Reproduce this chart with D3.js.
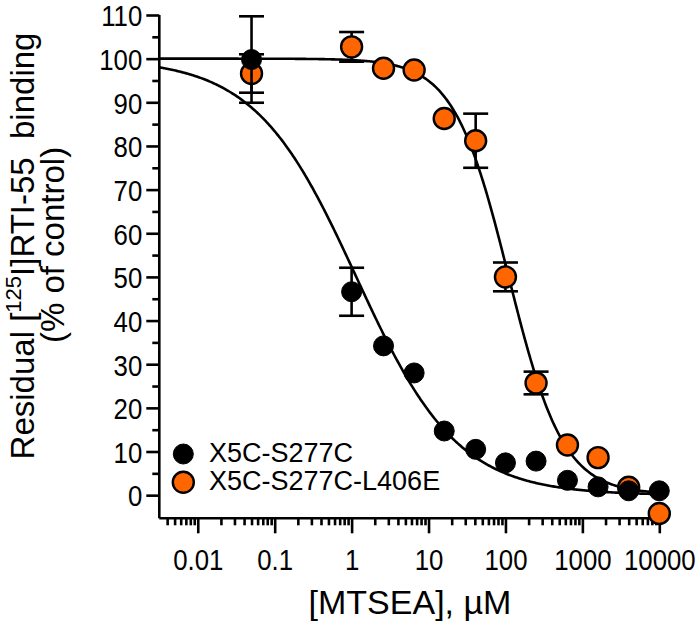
<!DOCTYPE html>
<html>
<head>
<meta charset="utf-8">
<script src="https://cdn.jsdelivr.net/npm/d3@7"></script>
<style>
  html, body { margin: 0; padding: 0; background: #fff; }
  svg { display: block; font-family: "Liberation Sans", Arial, sans-serif; }
</style>
</head>
<body>
<svg id="chart" width="700" height="631"></svg>
<script>
// ---- data ----
const seriesNames = ["X5C-S277C", "X5C-S277C-L406E"];
const seriesColors = ["#000000", "#FF6600"];

const blackX   = [0.05, 1, 2.6, 6.5, 16, 41, 100, 250, 640, 1600, 4000, 10000];
const blackY   = [99.8, 46.6, 34.2, 28.0, 14.7, 10.5, 7.4, 7.8, 3.4, 1.9, 1.0, 1.0];
const blackErr = [9.9, 5.5, 0, 0, 0, 0, 0, 0, 0, 0, 0, 0];

const orangeX   = [0.05, 1, 2.6, 6.5, 16, 41, 100, 250, 640, 1600, 4000, 10000];
const orangeY   = [96.6, 102.7, 97.8, 97.4, 86.3, 81.2, 50.0, 25.7, 11.5, 8.6, 1.8, -4.2];
const orangeErr = [4.4, 3.4, 0, 0, 0, 6.2, 3.3, 2.6, 0, 0, 0, 0];

// sigmoidal dose-response fit parameters: [top, bottom, IC50, Hill slope]
const blackFit  = [100, 0, 1.15, 0.66];
const orangeFit = [100, 0.2, 110, 1.22];

const xTickValues = [0.01, 0.1, 1, 10, 100, 1000, 10000];
const xTickLabels = ["0.01", "0.1", "1", "10", "100", "1000", "10000"];
const yTickValues = [0, 10, 20, 30, 40, 50, 60, 70, 80, 90, 100, 110];
const yMinorValues = [5, 15, 25, 35, 45, 55, 65, 75, 85, 95, 105];

// ---- layout ----
const svg = d3.select("#chart");
const x = d3.scaleLog().domain([Math.pow(10, -2.5), 10000]).range([159.3, 659.3]);
const y = d3.scaleLinear().domain([-5.3, 110]).range([518.3, 15]);

const xMinor = [];
for (let e = -3; e <= 3; e++) {
  for (let k = 2; k <= 9; k++) {
    const v = k * Math.pow(10, e);
    if (v >= x.domain()[0] && v <= 10000) xMinor.push(v);
  }
}

const axisStroke = 2.6;
const labelScale = 0.86;

// curves
function sigmoid(p) {
  return v => p[1] + (p[0] - p[1]) / (1 + Math.pow(v / p[2], p[3]));
}
const xs = d3.range(0, 401).map(i => Math.pow(10, -2.5 + i * 6.5 / 400));
const line = d3.line().x(d => x(d[0])).y(d => y(d[1]));
[blackFit, orangeFit].forEach(p => {
  const f = sigmoid(p);
  svg.append("path")
    .attr("d", line(xs.map(v => [v, f(v)])))
    .attr("fill", "none").attr("stroke", "#000").attr("stroke-width", 2.6);
});

// axes
const gy = svg.append("g").attr("transform", `translate(${x.range()[0]},0)`);
gy.call(d3.axisLeft(y).tickValues(yMinorValues).tickSize(7).tickSizeOuter(0).tickFormat(""));
gy.call(g => g.select(".domain").remove());
const gy2 = svg.append("g").attr("transform", `translate(${x.range()[0]},0)`);
gy2.call(d3.axisLeft(y).tickValues(yTickValues).tickSize(13).tickSizeOuter(0).tickPadding(4));
gy2.select(".domain").attr("d", `M0,${y.range()[0]}V${y(110)}`);

const gx = svg.append("g").attr("transform", `translate(0,${y.range()[0]})`);
gx.call(d3.axisBottom(x).tickValues(xMinor).tickSize(7).tickSizeOuter(0).tickFormat(""));
gx.call(g => g.select(".domain").remove());
const gx2 = svg.append("g").attr("transform", `translate(0,${y.range()[0]})`);
gx2.call(d3.axisBottom(x).tickValues(xTickValues).tickSize(15).tickSizeOuter(0).tickPadding(15)
  .tickFormat((d, i) => xTickLabels[i]));
gx2.select(".domain").attr("d", `M${x.range()[0]},0H${x.range()[1]}`);

[gx, gx2, gy, gy2].forEach(g => {
  g.selectAll("path, line").attr("stroke", "#000").attr("stroke-width", axisStroke);
  g.attr("font-family", null).attr("font-size", null);
});
gx2.selectAll("text")
  .attr("font-size", 30).attr("fill", "#000")
  .attr("transform", `scale(${labelScale},1)`);
gy2.selectAll("text")
  .attr("font-size", 30).attr("fill", "#000")
  .attr("x", -17 / labelScale).attr("dy", "0.36em")
  .attr("transform", `scale(${labelScale},1)`);

// error bars and points
const series = [
  { xs: orangeX, ys: orangeY, es: orangeErr, color: seriesColors[1], r: 10.5, sw: 2.4 },
  { xs: blackX, ys: blackY, es: blackErr, color: seriesColors[0], r: 10, sw: 1 }
];
series.forEach(s => {
  const g = svg.append("g");
  s.xs.forEach((xv, i) => {
    const e = s.es[i];
    if (e > 0) {
      const cx = x(xv), y1 = y(s.ys[i] + e), y2 = y(s.ys[i] - e);
      g.append("line").attr("x1", cx).attr("x2", cx).attr("y1", y1).attr("y2", y2)
        .attr("stroke", "#000").attr("stroke-width", 2.6);
      [y1, y2].forEach(yy => g.append("line")
        .attr("x1", cx - 12.5).attr("x2", cx + 12.5).attr("y1", yy).attr("y2", yy)
        .attr("stroke", "#000").attr("stroke-width", 2.6));
    }
  });
  g.selectAll("circle").data(s.xs).join("circle")
    .attr("cx", d => x(d)).attr("cy", (d, i) => y(s.ys[i]))
    .attr("r", s.r).attr("fill", s.color)
    .attr("stroke", "#000").attr("stroke-width", s.sw);
});

// legend
const legend = svg.append("g");
seriesNames.forEach((name, i) => {
  const cy = 454 + i * 28.3;
  legend.append("circle").attr("cx", 183.3).attr("cy", cy)
    .attr("r", i === 0 ? 10 : 10.5).attr("fill", seriesColors[i])
    .attr("stroke", "#000").attr("stroke-width", i === 0 ? 1 : 2.4);
  legend.append("text").attr("x", 209).attr("y", cy + 8)
    .attr("font-size", 27).attr("fill", "#000").text(name);
});

// axis titles
svg.append("text")
  .attr("x", 410).attr("y", 614).attr("text-anchor", "middle")
  .attr("font-size", 34).attr("fill", "#000")
  .text("[MTSEA], \u00B5M");

const yt = svg.append("text")
  .attr("transform", "translate(34,246) rotate(-90)")
  .attr("text-anchor", "middle").attr("font-size", 33).attr("fill", "#000")
  .style("white-space", "pre");
yt.append("tspan").text("Residual [");
yt.append("tspan").attr("font-size", 22).attr("dy", -13).text("125");
yt.append("tspan").attr("dy", 13).text("I]RTI-55  binding");

svg.append("text")
  .attr("transform", "translate(64,245) rotate(-90)")
  .attr("text-anchor", "middle").attr("font-size", 33).attr("fill", "#000")
  .text("(% of control)");
</script>
</body>
</html>
